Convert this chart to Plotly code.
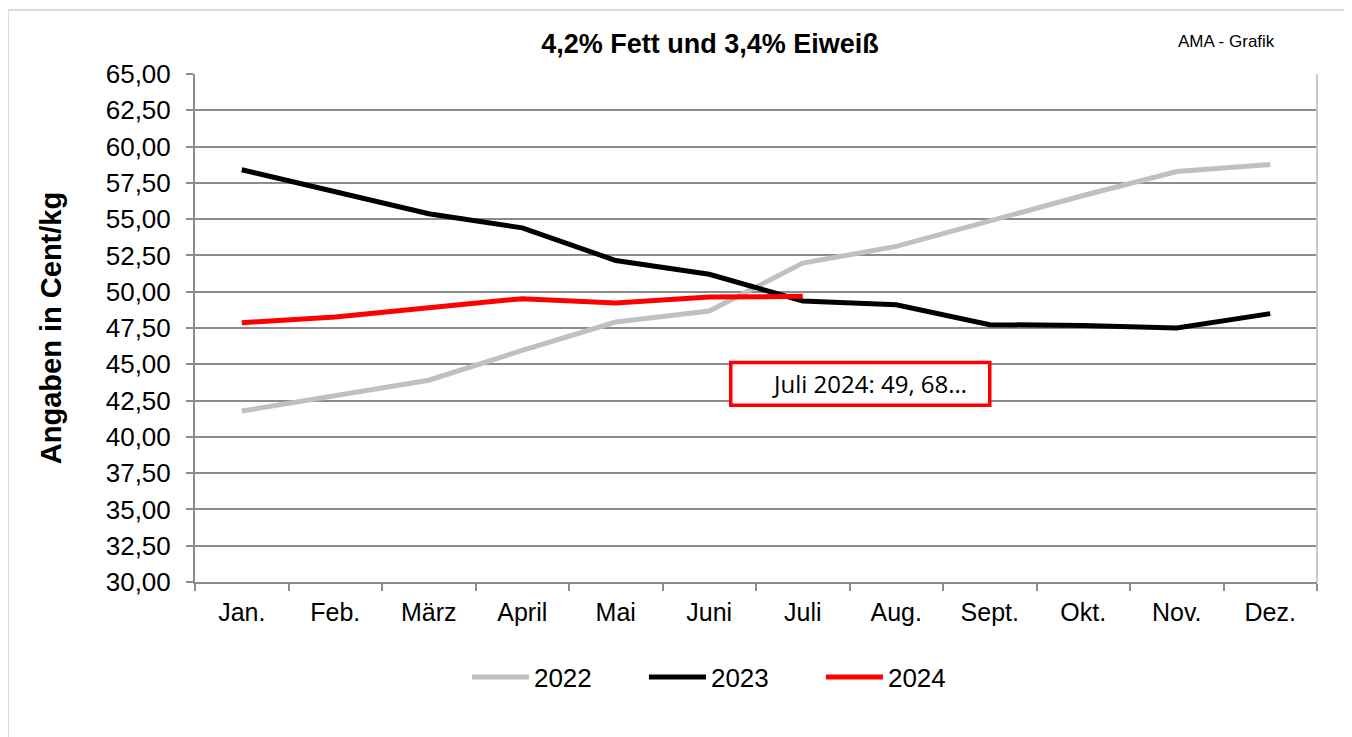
import plotly.graph_objects as go

months = ["Jan.", "Feb.", "März", "April", "Mai", "Juni", "Juli", "Aug.", "Sept.", "Okt.", "Nov.", "Dez."]
v2022 = [41.78, 42.80, 43.90, 45.96, 47.91, 48.67, 51.97, 53.12, 54.91, 56.63, 58.28, 58.76]
v2023 = [58.40, 56.86, 55.37, 54.40, 52.15, 51.20, 49.36, 49.10, 47.73, 47.68, 47.50, 48.49]
v2024 = [47.87, 48.25, 48.90, 49.52, 49.22, 49.63, 49.68]
series_names = ["2022", "2023", "2024"]
series_colors = ["#c0c0c0", "#000000", "#ff0000"]

FONT = "Liberation Sans, Arial, sans-serif"
GRID = "#8c8c8c"

W, H = 1344, 729
L, T, PW, PH = 187, 66, 1122, 508

fig = go.Figure()
for name, vals, col in zip(series_names, [v2022, v2023, v2024], series_colors):
    fig.add_trace(go.Scatter(
        x=months[:len(vals)], y=vals, name=name, mode="lines",
        line=dict(color=col, width=5), hoverinfo="x+y+name",
    ))

fig.update_layout(
    width=W, height=H,
    margin=dict(l=L, r=W - L - PW, t=T, b=H - T - PH, autoexpand=False),
    paper_bgcolor="white", plot_bgcolor="white",
    separators=",.",
    font=dict(family=FONT, size=26, color="black"),
    title=dict(
        text="<b>4,2% Fett und 3,4% Eiweiß</b>",
        font=dict(family=FONT, size=27, color="black"),
        x=0.459, xref="paper", xanchor="center",
        y=1 - 36 / H, yref="container", yanchor="middle",
    ),
    xaxis=dict(
        type="category", categoryorder="array", categoryarray=months,
        range=[-0.5, 11.5],
        showgrid=False, showline=True, linecolor=GRID, linewidth=2,
        ticks="outside", tickson="boundaries", ticklen=7, tickcolor=GRID, tickwidth=1.5,
        ticklabelstandoff=7,
        tickfont=dict(family=FONT, size=25, color="black"),
    ),
    yaxis=dict(
        range=[30, 65], dtick=2.5, tick0=30, tickformat=".2f",
        showgrid=True, gridcolor=GRID, gridwidth=1.5,
        showline=True, linecolor=GRID, linewidth=2,
        ticks="outside", ticklen=7, tickcolor=GRID, tickwidth=1.5,
        ticklabelstandoff=10,
        tickfont=dict(family=FONT, size=26, color="black"),
        zeroline=False,
        title=dict(text="<b>Angaben in Cent/kg</b>", font=dict(family=FONT, size=29, color="black"),
                   standoff=36),
    ),
    legend=dict(
        orientation="h", x=0.479, xanchor="center", y=-0.187, yanchor="middle",
        font=dict(family=FONT, size=26, color="black"),
        entrywidth=105, itemwidth=57, bgcolor="rgba(0,0,0,0)",
    ),
    showlegend=True,
)

# right frame of plot area
fig.add_shape(type="line", xref="paper", yref="paper", x0=1, x1=1, y0=0, y1=1,
              line=dict(color="#c8c8c8", width=2))

# outer chart border
fig.add_shape(type="rect", xref="paper", yref="paper",
              x0=(0 - L) / PW, x1=(1337 - L) / PW,
              y0=-(760 - T - PH) / PH, y1=(T + PH - 2) / PH,
              line=dict(color="#d0d0d0", width=1.5), fillcolor="rgba(0,0,0,0)", layer="below")

# AMA - Grafik
fig.add_annotation(text="AMA - Grafik", xref="paper", yref="paper",
                   x=(1218 - L) / PW, y=(T + PH - 34) / PH, xanchor="center", yanchor="middle",
                   showarrow=False, font=dict(family=FONT, size=17, color="black"))

# callout box
fig.add_shape(type="rect", xref="x", yref="y", x0=5.23, x1=8.0, y0=42.17, y1=45.13,
              line=dict(color="#ff0000", width=3.5), fillcolor="white", layer="above")
fig.add_annotation(text="Juli 2024: 49, 68…", xref="x", yref="y", x=5.65, y=43.69,
                   xanchor="left", yanchor="middle", showarrow=False,
                   font=dict(family="Open Sans, Noto Sans, sans-serif", size=24, color="black"))

fig.write_html("out.html")
